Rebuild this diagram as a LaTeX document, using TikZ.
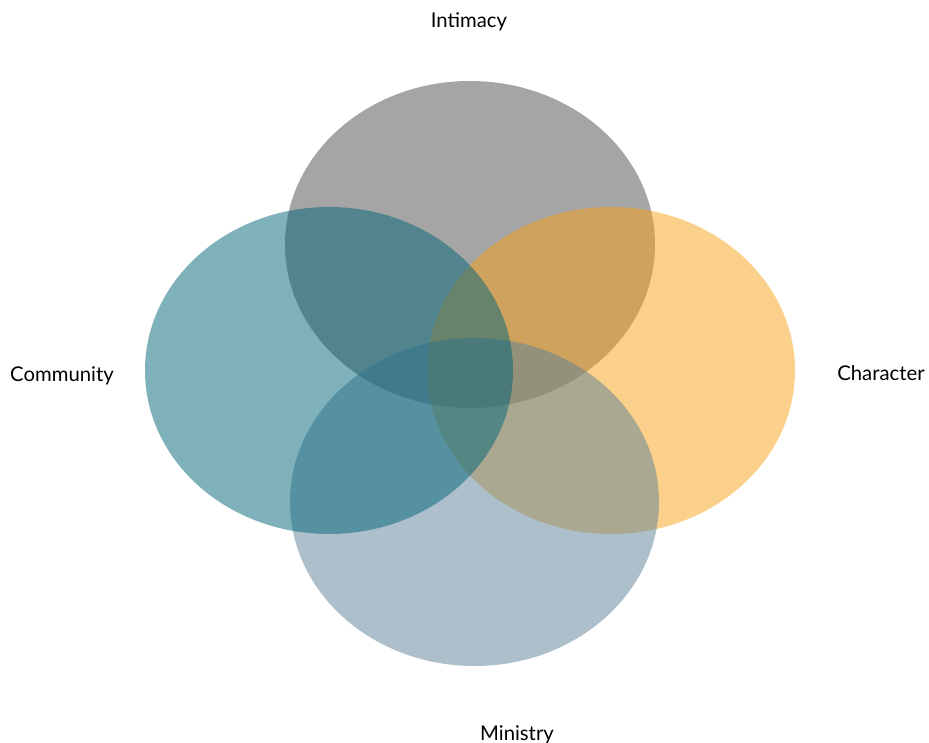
\documentclass[tikz,border=0pt]{standalone}
\usepackage{fontspec}
\setmainfont{Lato}
\definecolor{cgray}{RGB}{77,77,77}
\definecolor{cteal}{RGB}{0,101,121}
\definecolor{corange}{RGB}{249,163,23}
\definecolor{cslate}{RGB}{91,129,151}
\begin{document}
\begin{tikzpicture}[x=1pt,y=-1pt,
  blob/.style={fill opacity=0.5, draw=none},
  lbl/.style={font=\fontsize{20.3}{24}\selectfont, text=black, inner sep=0pt}]
\useasboundingbox (0,0) rectangle (929,743);
\fill[white] (0,0) rectangle (929,743);
\path[blob, fill=cgray] (470,244.5) ellipse [x radius=185, y radius=163.5];
\path[blob, fill=corange] (611,370.5) ellipse [x radius=184, y radius=163.5];
\path[blob, fill=cslate] (474.5,502) ellipse [x radius=184.5, y radius=164];
\path[blob, fill=cteal] (329,370.5) ellipse [x radius=184, y radius=163.5];
\node[lbl] (intimacy) at (469,21.5) {Intimacy};
\node[lbl] (community) at (62,376) {Community};
\node[lbl] (character) at (881,373.5) {Character};
\node[lbl] (ministry) at (517,734.5) {Ministry};
\end{tikzpicture}
\end{document}
